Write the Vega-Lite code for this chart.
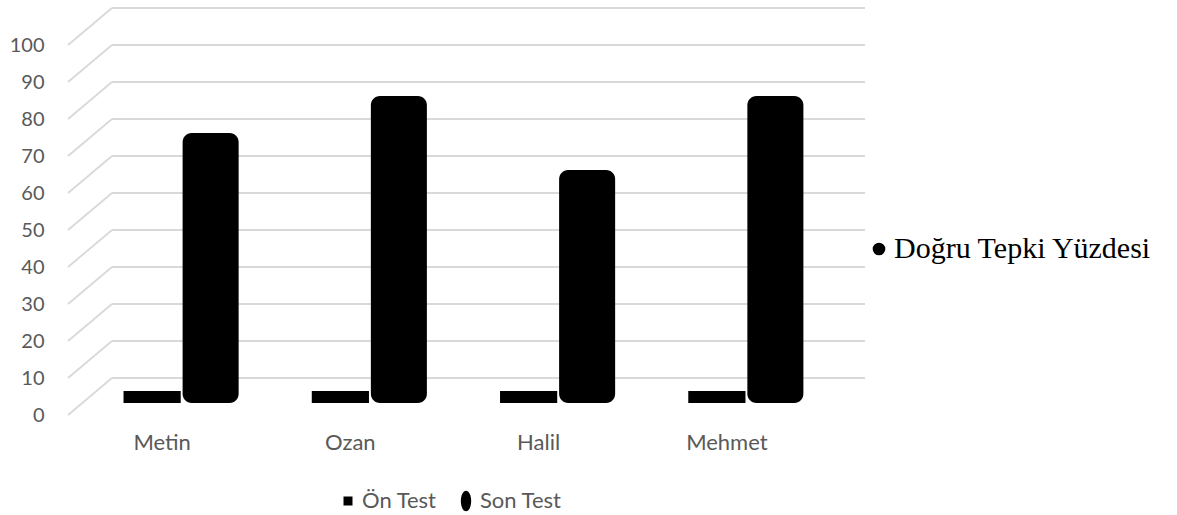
{
  "$schema": "https://vega.github.io/schema/vega-lite/v6.json",
  "width": 753,
  "height": 370,
  "autosize": {"type": "none"},
  "padding": {"left": 112, "top": 8, "right": 312, "bottom": 137},
  "background": "white",
  "data": {
    "values": [
      {"name": "Metin", "series": "Ön Test", "value": 0},
      {"name": "Metin", "series": "Son Test", "value": 70},
      {"name": "Ozan", "series": "Ön Test", "value": 0},
      {"name": "Ozan", "series": "Son Test", "value": 80},
      {"name": "Halil", "series": "Ön Test", "value": 0},
      {"name": "Halil", "series": "Son Test", "value": 60},
      {"name": "Mehmet", "series": "Ön Test", "value": 0},
      {"name": "Mehmet", "series": "Son Test", "value": 80}
    ]
  },
  "layer": [
    {
      "data": {"values": [{"v": 0}, {"v": 10}, {"v": 20}, {"v": 30}, {"v": 40}, {"v": 50}, {"v": 60}, {"v": 70}, {"v": 80}, {"v": 90}, {"v": 100}]},
      "layer": [
        {
          "mark": {"type": "rule", "color": "#d9d9d9", "strokeWidth": 1.8},
          "encoding": {
            "y": {"field": "v", "type": "quantitative", "scale": {"domain": [0, 100], "nice": false}, "axis": {"title": null, "tickCount": 10}}
          }
        },
        {
          "mark": {"type": "rule", "color": "#d9d9d9", "strokeWidth": 1.8, "yOffset": 37},
          "encoding": {
            "x": {"datum": 0, "type": "quantitative", "scale": {"domain": [0, 1], "range": [-44, 0]}, "axis": null},
            "x2": {"datum": 1},
            "y": {"field": "v", "type": "quantitative", "axis": {"title": null, "tickCount": 10}},
            "y2": {"field": "v"}
          }
        }
      ]
    },
    {
      "encoding": {
        "x": {"field": "name", "type": "nominal", "sort": ["Metin", "Ozan", "Halil", "Mehmet"], "scale": {"paddingInner": 0.38, "paddingOuter": 0.19}, "axis": {"title": null}}
      },
      "layer": [
        {
          "transform": [{"filter": "datum.series === 'Ön Test'"}],
          "mark": {"type": "bar", "width": {"band": 0.49}, "xOffset": -54, "yOffset": 13, "y2Offset": 25},
          "encoding": {
            "y": {"field": "value", "type": "quantitative", "stack": null, "axis": {"title": null, "tickCount": 10}},
            "y2": {"datum": 0},
            "color": {"field": "series", "type": "nominal", "scale": {"domain": ["Ön Test", "Son Test"], "range": ["#000000", "#000000"]},
              "legend": {
                "title": null, "orient": "none", "direction": "horizontal", "legendX": 225, "legendY": 482,
                "padding": 0, "symbolSize": 81, "symbolStrokeWidth": 0, "labelFont": "Lato", "labelFontSize": 22, "labelColor": "#595959", "labelOffset": 3, "columnPadding": 18,
                "encode": {"symbols": {"update": {"shape": {"signal": "datum.value === 'Ön Test' ? 'square' : 'M-1.15,0A1.15,2.3,0,1,1,1.15,0A1.15,2.3,0,1,1,-1.15,0Z'"}, "fill": {"value": "#000000"}}}}
              }
            }
          }
        },
        {
          "transform": [{"filter": "datum.series === 'Son Test'"}],
          "mark": {"type": "bar", "width": {"band": 0.48}, "xOffset": 4.5, "yOffset": 14, "y2Offset": 25, "cornerRadius": 9},
          "encoding": {
            "y": {"field": "value", "type": "quantitative", "stack": null, "axis": {"title": null, "tickCount": 10}},
            "y2": {"datum": 0},
            "color": {"field": "series", "type": "nominal"}
          }
        },
        {
          "mark": {"type": "circle", "size": 0},
          "encoding": {
            "fill": {"datum": "Doğru Tepki Yüzdesi", "type": "nominal", "scale": {"range": ["#000000"]},
              "legend": {"title": null, "orient": "none", "legendX": 752, "legendY": 226, "padding": 0, "symbolType": "circle", "symbolSize": 160, "symbolOpacity": 1, "labelFont": "Liberation Serif", "labelFontSize": 30, "labelColor": "#000000", "labelOffset": 0, "labelLimit": 0}
            }
          }
        }
      ]
    }
  ],
  "resolve": {"scale": {"x": "independent"}, "axis": {"x": "independent"}},
  "config": {
    "view": {"stroke": null},
    "axisY": {"domain": false, "ticks": false, "grid": false, "labelOffset": 37, "offset": 60, "labelPadding": 8, "labelFont": "Lato", "labelFontSize": 20, "labelColor": "#595959"},
    "axisX": {"domain": false, "ticks": false, "grid": false, "labelOffset": -44, "labelPadding": 54, "labelFont": "Lato", "labelFontSize": 22, "labelColor": "#595959", "labelAngle": 0}
  }
}
